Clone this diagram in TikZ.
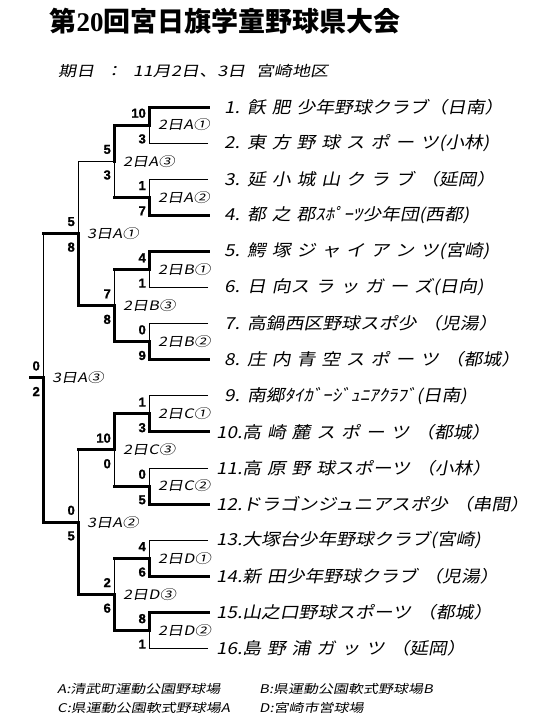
\documentclass[tikz,border=0pt]{standalone}
\usepackage{fontspec}
\usepackage{tikz}
\usetikzlibrary{positioning,calc}
\setmainfont{Liberation Sans}
\newfontfamily\jpteam[FakeSlant=0.2,FakeStretch=1.14,WordSpace=1.4]{Noto Sans CJK JP}
\newfontfamily\jpwide[FakeSlant=0.2,FakeStretch=1.25,WordSpace=2.5]{Noto Sans CJK JP}
\newfontfamily\jphead{Noto Sans CJK JP}
\newfontfamily\headnum{Liberation Serif}
\newfontfamily\scorefont[FakeBold=1.2]{Liberation Sans}
\tikzset{
  winline/.style={line width=3pt, line cap=rect},
  loseline/.style={line width=1pt},
  teamlabel/.style={anchor=west, inner sep=0pt, font=\jpteam\fontsize{16.5}{19}\selectfont},
  scorenum/.style={inner sep=0pt, font=\scorefont\bfseries\fontsize{13}{15}\selectfont},
  gamelabel/.style={anchor=west, inner sep=0pt, font=\jpwide\fontsize{13}{15}\selectfont},
  titletext/.style={inner sep=0pt, font=\jphead\bfseries\fontsize{27}{30}\selectfont},
  datetext/.style={anchor=west, inner sep=0pt, font=\jpwide\fontsize{14.5}{17}\selectfont},
  foottext/.style={anchor=west, inner sep=0pt, font=\jpwide\fontsize{12}{14}\selectfont}
}
\begin{document}
\begin{tikzpicture}[x=1pt,y=-1pt]
  \useasboundingbox (0,0) rectangle (540,720);
  \node[titletext] (title) at (225,21) {第{\headnum\bfseries 20}回宮日旗学童野球県大会};
  \node[datetext] (date) at (58,71) {期日 ： 11月2日、3日 宮崎地区};
  % teams
  \foreach \i/\name in {1/{1. 飫 肥 少年野球クラブ（日南）}, 2/{2. 東 方 野 球 ス ポ ー ツ(小林)},
      3/{3. 延 小 城 山 ク ラ ブ （延岡）}, 4/{4. 都 之 郡ｽﾎﾟｰﾂ少年団(西都)},
      5/{5. 鰐 塚 ジ ャ イ ア ン ツ(宮崎)}, 6/{6. 日 向ス ラ ッ ガ ー ズ(日向)},
      7/{7. 高鍋西区野球スポ少 （児湯）}, 8/{8. 庄 内 青 空 ス ポ ー ツ （都城）},
      9/{9. 南郷ﾀｲｶﾞｰｼﾞｭﾆｱｸﾗﾌﾞ(日南)}, 10/{10.高 崎 麓 ス ポ ー ツ （都城）},
      11/{11.高 原 野 球スポーツ （小林）}, 12/{12.ドラゴンジュニアスポ少 （串間）},
      13/{13.大塚台少年野球クラブ(宮崎)}, 14/{14.新 田少年野球クラブ （児湯）},
      15/{15.山之口野球スポーツ （都城）}, 16/{16.島 野 浦 ガ ッ ツ （延岡）}}{
    \coordinate (e\i) at (208,{107+(\i-1)*36.1});
    \node[teamlabel] (team\i) at ({216+(\i<10)*8},{107+(\i-1)*36.1}) {\name};
  }
  % first round
  \foreach \m/\a/\b/\wa/\wb in {1/1/2/winline/loseline, 2/3/4/loseline/winline,
      3/5/6/winline/loseline, 4/7/8/loseline/winline, 5/9/10/loseline/winline,
      6/11/12/loseline/winline, 7/13/14/loseline/winline, 8/15/16/winline/loseline}{
    \coordinate (a\m) at (149,{107+(\a-0.5)*36.1});
    \draw[\wa] (e\a) -| (a\m);
    \draw[\wb] (e\b) -| (a\m);
  }
  \coordinate (b1) at (114,{107+1.5*36.1});
  \coordinate (b2) at (114,{107+5.5*36.1});
  \coordinate (b3) at (114,{107+9.5*36.1});
  \coordinate (b4) at (114,{107+13.5*36.1});
  \coordinate (c1) at (78,{107+3.5*36.1});
  \coordinate (c2) at (78,{107+11.5*36.1});
  \coordinate (f) at (43,{107+7.5*36.1});
  \coordinate (champ) at (30,{107+7.5*36.1});
  % later rounds
  \foreach \j/\t/\b/\ft/\fb/\wt/\wb in {b1/a1/a2/winline/winline/winline/loseline,
      b2/a3/a4/winline/winline/loseline/winline, b3/a5/a6/winline/winline/winline/loseline,
      b4/a7/a8/winline/winline/loseline/winline, c1/b1/b2/loseline/winline/loseline/winline,
      c2/b3/b4/winline/winline/loseline/winline, f/c1/c2/winline/winline/loseline/winline}{
    \draw[\ft] (\t) -- (\t -| \j);
    \draw[\fb] (\b) -- (\b -| \j);
    \draw[\wt] (\t -| \j) -- (\j);
    \draw[\wb] (\b -| \j) -- (\j);
  }
  \draw[winline] (f) -- (champ);
  % scores and game names
  \foreach \j/\st/\sb/\lab in {a1/10/3/2日A①, a2/1/7/2日A②, a3/4/1/2日B①, a4/0/9/2日B②,
      a5/1/3/2日C①, a6/0/5/2日C②, a7/4/6/2日D①, a8/8/1/2日D②,
      b1/5/3/2日A③, b2/7/8/2日B③, b3/10/0/2日C③, b4/2/6/2日D③,
      c1/5/8/3日A①, c2/0/5/3日A②, f/0/2/3日A③}{
    \node[scorenum, anchor=south east] (\j-top) at ([xshift=-3pt,yshift=7pt]\j) {\st};
    \node[scorenum, anchor=north east] (\j-bot) at ([xshift=-3pt,yshift=-9pt]\j) {\sb};
    \node[gamelabel] (\j-name) at ([xshift=9pt]\j) {\lab};
  }
  % grounds
  \node[foottext] (grounda) at (57,689) {A:清武町運動公園野球場};
  \node[foottext] (groundb) at (259,689) {B:県運動公園軟式野球場B};
  \node[foottext] (groundc) at (57,708) {C:県運動公園軟式野球場A};
  \node[foottext] (groundd) at (259,708) {D:宮崎市営球場};
\end{tikzpicture}
\end{document}
